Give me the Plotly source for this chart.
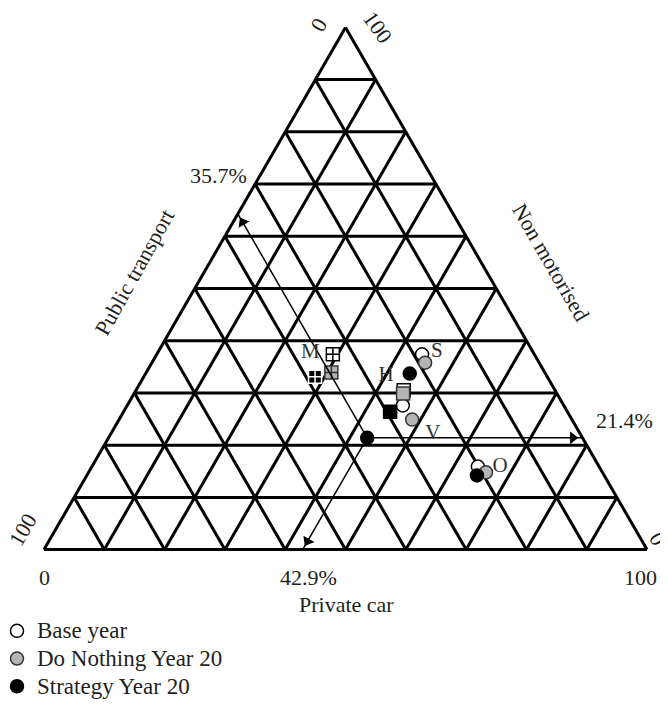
import plotly.graph_objects as go

# cities and marker shape per city
cities = ["S", "H", "M", "V", "O"]
city_symbols = ["circle", "square", "square-cross", "circle", "circle"]

# modal split (%): non motorised / public transport / private car
base_nm = [37.4, 30.5, 37.4, 27.6, 15.9]
base_pt = [18.6, 25.1, 33.4, 26.7, 20.1]
base_car = [44.0, 44.4, 29.2, 45.7, 64.0]

dn_nm = [35.8, 29.9, 33.9, 24.9, 14.8]
dn_pt = [18.9, 25.5, 35.4, 26.5, 19.3]
dn_car = [45.3, 44.6, 30.7, 48.6, 65.9]

strat_nm = [33.7, 26.4, 33.1, 21.4, 14.2]
strat_pt = [22.5, 29.4, 38.5, 35.7, 21.1]
strat_car = [43.8, 44.2, 28.4, 42.9, 64.7]

# where the city letters sit
label_nm = [37.9, 33.3, 37.7, 22.2, 15.9]
label_pt = [15.9, 26.6, 37.0, 24.4, 16.4]
label_car = [46.2, 40.1, 25.3, 53.4, 67.7]

# reading guide for one point
guide_nm, guide_pt, guide_car = 21.4, 35.7, 42.9

FONT = "Liberation Serif"
INK = "#231f20"
# page body has an 8px margin, so the figure is a bit smaller than the window
PAD = 8
W, H = 668 - PAD, 709 - PAD


def fx(px):
    return (px - PAD) / W


def fy(py):
    return 1 - (py - PAD) / H


def legend_name(s):
    return '<span style="font-size:23px">' + s + "</span>"


fig = go.Figure()

fig.add_trace(go.Scatterternary(
    a=base_nm, b=base_pt, c=base_car, mode="markers", name=legend_name("Base year"),
    marker=dict(symbol=city_symbols, size=13, color="white",
                line=dict(color="black", width=1.5)),
))
fig.add_trace(go.Scatterternary(
    a=dn_nm, b=dn_pt, c=dn_car, mode="markers", name=legend_name("Do Nothing Year 20"),
    marker=dict(symbol=city_symbols, size=13, color="#b4b4b4",
                line=dict(color="#333333", width=1.5)),
))
fig.add_trace(go.Scatterternary(
    a=strat_nm, b=strat_pt, c=strat_car, mode="markers", name=legend_name("Strategy Year 20"),
    marker=dict(symbol=city_symbols, size=13, color="black",
                line=dict(color=["black", "black", "white", "black", "black"], width=1.5)),
))

# guide lines from the point to each side
guide_ends = [
    (100 - guide_pt, guide_pt, 0),
    (0, 100 - guide_car, guide_car),
    (guide_nm, 0, 100 - guide_nm),
]
for end in guide_ends:
    fig.add_trace(go.Scatterternary(
        a=[guide_nm, end[0]], b=[guide_pt, end[1]], c=[guide_car, end[2]],
        mode="lines", line=dict(color="black", width=1.5),
        showlegend=False, hoverinfo="skip",
    ))

off = 1.6
fig.add_trace(go.Scatterternary(
    a=[100 - guide_pt - off, off, guide_nm],
    b=[guide_pt, 100 - guide_car - off, off],
    c=[off, guide_car, 100 - guide_nm - off],
    mode="markers", showlegend=False, hoverinfo="skip",
    marker=dict(symbol="triangle-up", size=11, color="black", angle=[-30, 210, 90]),
))

fig.add_trace(go.Scatterternary(
    a=label_nm, b=label_pt, c=label_car, mode="text", text=cities,
    textfont=dict(family=FONT, size=21, color="#333333"),
    showlegend=False, hoverinfo="skip",
))

axis = dict(
    title=dict(text=""), showticklabels=False, ticks="", dtick=10,
    linecolor="black", linewidth=3, gridcolor="black", gridwidth=2.5,
    layer="below traces", min=0,
)

fig.update_layout(
    width=W, height=H,
    margin=dict(l=0, r=0, t=0, b=0, autoexpand=False),
    paper_bgcolor="white",
    ternary=dict(
        sum=100, bgcolor="white",
        domain=dict(x=[fx(44), fx(647)], y=[fy(550), fy(27)]),
        aaxis=axis, baxis=axis, caxis=axis,
    ),
    showlegend=True,
    legend=dict(
        x=fx(-3), y=fy(612), xanchor="left", yanchor="top",
        font=dict(family=FONT, size=19, color=INK),
        bgcolor="rgba(0,0,0,0)", tracegroupgap=0,
    ),
    font=dict(family=FONT, color=INK),
)


def note(text, px, py, size=22, angle=0):
    fig.add_annotation(
        text=text, x=fx(px), y=fy(py), xref="paper", yref="paper",
        showarrow=False, textangle=angle, font=dict(family=FONT, size=size, color=INK),
        xanchor="center", yanchor="middle",
    )


note("Private car", 346, 604)
note("Public transport", 134, 272, angle=-61)
note("Non motorised", 550, 262, angle=60)
note("0", 44, 577)
note("100", 640, 577)
note("100", 22, 530, angle=-60)
note("0", 318, 25, angle=-60)
note("100", 377, 27, angle=55)
note("0", 658, 538, angle=60)
note("42.9%", 308, 577)
note("35.7%", 218, 176)
note("21.4%", 624, 420)

fig.write_html("out.html")
